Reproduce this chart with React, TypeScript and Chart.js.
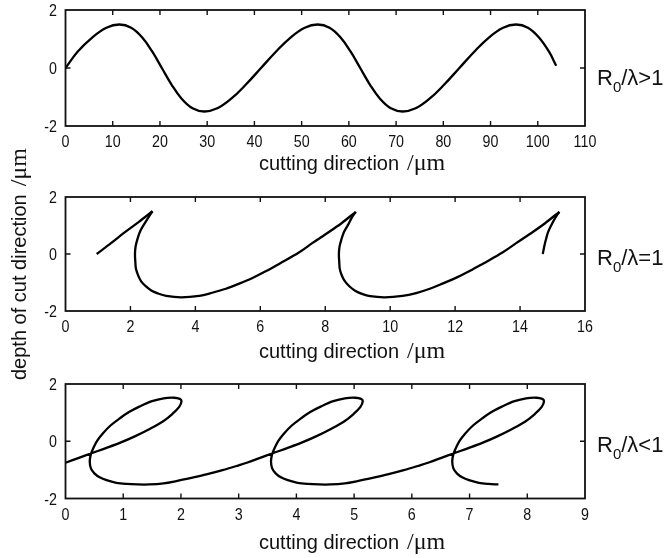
import { useEffect, useRef } from 'react';
import { Chart, registerables } from 'chart.js';

Chart.register(...registerables);

// ---- page geometry -------------------------------------------------------
const PAGE_W = 667;
const PAGE_H = 558;
const PLOT_LEFT = 65.5;
const PLOT_RIGHT = 585;
const X_AXIS_BAND = 30;
const TICK_LEN = 5;
const INK = '#111';
const SANS = '"Liberation Sans", Arial, Helvetica, sans-serif';
const SERIF = '"Liberation Serif", "Times New Roman", serif';

// ---- shared text ---------------------------------------------------------
const X_TITLE = 'cutting direction';
const Y_TITLE = 'depth of cut direction';
const UNIT = '/\u03bcm';
const Y_TICKS = [-2, 0, 2];

// ---- panel 1: R0/λ > 1 ---------------------------------------------------
const TOP_X_TICKS = [0, 10, 20, 30, 40, 50, 60, 70, 80, 90, 100, 110];
const TOP_X = [
  0, 2.6, 5.71, 8.66, 11.4, 13.91, 16.21, 18.35, 20.4, 22.45, 24.59, 26.89, 29.4,
  32.14, 35.09, 38.2, 41.4, 44.6, 47.71, 50.66, 53.4, 55.91, 58.21, 60.35, 62.4,
  64.45, 66.59, 68.89, 71.4, 74.14, 77.09, 80.2, 83.4, 86.6, 89.71, 92.66, 95.4,
  97.91, 100.21, 102.35, 103.9,
];
const TOP_Y = [
  0, 0.57, 1.06, 1.39, 1.5, 1.39, 1.06, 0.57, 0, -0.57, -1.06, -1.39, -1.5,
  -1.39, -1.06, -0.57, 0, 0.57, 1.06, 1.39, 1.5, 1.39, 1.06, 0.57, 0,
  -0.57, -1.06, -1.39, -1.5, -1.39, -1.06, -0.57, 0, 0.57, 1.06, 1.39, 1.5,
  1.39, 1.06, 0.57, 0.08,
];

// ---- panel 2: R0/λ = 1 ---------------------------------------------------
const MID_X_TICKS = [0, 2, 4, 6, 8, 10, 12, 14, 16];
const MID_X = [
  0.96, 1.4, 1.81, 2.25, 2.68, 2.55, 2.43, 2.3, 2.22, 2.16, 2.14, 2.15, 2.17,
  2.24, 2.33, 2.47, 2.63, 2.84, 3.1, 3.56, 4.12, 4.52, 4.94, 5.35, 5.76, 6.18,
  6.59, 7.2, 7.6, 8.02, 8.5, 8.94, 8.81, 8.71, 8.58, 8.5, 8.44, 8.42, 8.43,
  8.45, 8.52, 8.62, 8.75, 8.92, 9.13, 9.38, 9.83, 10.38, 10.8, 11.22, 11.63,
  12.04, 12.46, 12.87, 13.47, 13.88, 14.3, 14.77, 15.21, 15.08, 14.97, 14.86,
  14.79, 14.74, 14.7,
];
const MID_Y = [
  0, 0.38, 0.75, 1.12, 1.5, 1.28, 1.06, 0.8, 0.54, 0.27, 0, -0.26, -0.52,
  -0.76, -0.96, -1.13, -1.27, -1.38, -1.47, -1.52, -1.47, -1.36, -1.22, -1.04,
  -0.84, -0.6, -0.34, 0.06, 0.38, 0.7, 1.08, 1.48, 1.26, 1.04, 0.78, 0.52,
  0.26, 0, -0.26, -0.54, -0.78, -0.98, -1.14, -1.29, -1.4, -1.48, -1.52,
  -1.47, -1.37, -1.22, -1.03, -0.83, -0.59, -0.33, 0.06, 0.38, 0.7, 1.08,
  1.48, 1.26, 1.03, 0.76, 0.48, 0.24, 0,
];
// indices of the cusp points, where the smooth pieces meet
const MID_CUSPS = [4, 31, 58];

// ---- panel 3: R0/λ < 1 ---------------------------------------------------
const BOT_X_TICKS = [0, 1, 2, 3, 4, 5, 6, 7, 8, 9];
const BOT_X = [
  0, 0.22, 0.45, 0.7, 0.95, 1.2, 1.45, 1.68, 1.85, 1.97, 2.01, 1.98, 1.88, 1.7,
  1.5, 1.28, 1.1, 0.94, 0.78, 0.65, 0.55, 0.48, 0.44, 0.42, 0.44, 0.5, 0.6,
  0.71, 0.88, 1.05, 1.25, 1.45, 1.7, 1.92, 2.2, 2.44, 2.72, 3.0,
  3.14, 3.36, 3.59, 3.84, 4.09, 4.34, 4.59, 4.82, 4.99, 5.11, 5.15, 5.12, 5.02,
  4.84, 4.64, 4.42, 4.24, 4.08, 3.92, 3.79, 3.69, 3.62, 3.58, 3.56, 3.58, 3.64,
  3.74, 3.85, 4.02, 4.19, 4.39, 4.59, 4.84, 5.06, 5.34, 5.58, 5.86, 6.14,
  6.28, 6.5, 6.73, 6.98, 7.23, 7.48, 7.73, 7.96, 8.13, 8.25, 8.29, 8.26, 8.16,
  7.98, 7.78, 7.56, 7.38, 7.22, 7.06, 6.93, 6.83, 6.76, 6.72, 6.7, 6.72, 6.78,
  6.88, 6.99, 7.16, 7.33, 7.5,
];
const BOT_Y = [
  -0.75, -0.59, -0.42, -0.24, -0.05, 0.17, 0.42, 0.68, 0.95, 1.2, 1.4, 1.48,
  1.52, 1.5, 1.4, 1.21, 1.02, 0.8, 0.55, 0.28, 0.02, -0.25, -0.45, -0.7, -0.95,
  -1.12, -1.27, -1.36, -1.45, -1.49, -1.51, -1.51, -1.47, -1.39, -1.27, -1.16,
  -1.01, -0.84,
  -0.75, -0.59, -0.42, -0.24, -0.05, 0.17, 0.42, 0.68, 0.95, 1.2, 1.4, 1.48,
  1.52, 1.5, 1.4, 1.21, 1.02, 0.8, 0.55, 0.28, 0.02, -0.25, -0.45, -0.7, -0.95,
  -1.12, -1.27, -1.36, -1.45, -1.49, -1.51, -1.51, -1.47, -1.39, -1.27, -1.16,
  -1.01, -0.84,
  -0.75, -0.59, -0.42, -0.24, -0.05, 0.17, 0.42, 0.68, 0.95, 1.2, 1.4, 1.48,
  1.52, 1.5, 1.4, 1.21, 1.02, 0.8, 0.55, 0.28, 0.02, -0.25, -0.45, -0.7, -0.95,
  -1.12, -1.27, -1.36, -1.45, -1.49, -1.51,
];

type Pt = { x: number; y: number };

interface Panel {
  xMin: number;
  xMax: number;
  xTicks: number[];
  pieces: Pt[][];
  tension: number;
  plotTop: number;
  plotBottom: number;
  titleBase: number;
  relation: string;
  labelBase: number;
  withYTitle: boolean;
}

const toPoints = (xs: number[], ys: number[]): Pt[] => xs.map((x, i) => ({ x, y: ys[i] }));

function splitAt(points: Pt[], cuts: number[]): Pt[][] {
  const out: Pt[][] = [];
  let start = 0;
  for (const c of cuts) {
    out.push(points.slice(start, c + 1));
    start = c;
  }
  out.push(points.slice(start));
  return out;
}

const PANELS: Panel[] = [
  {
    xMin: 0, xMax: 110, xTicks: TOP_X_TICKS,
    pieces: [toPoints(TOP_X, TOP_Y)], tension: 0.4,
    plotTop: 10, plotBottom: 126, titleBase: 170,
    relation: '>1', labelBase: 85, withYTitle: false,
  },
  {
    xMin: 0, xMax: 16, xTicks: MID_X_TICKS,
    pieces: splitAt(toPoints(MID_X, MID_Y), MID_CUSPS), tension: 0.35,
    plotTop: 197, plotBottom: 311, titleBase: 358,
    relation: '=1', labelBase: 265, withYTitle: true,
  },
  {
    xMin: 0, xMax: 9, xTicks: BOT_X_TICKS,
    pieces: [toPoints(BOT_X, BOT_Y)], tension: 0.35,
    plotTop: 384, plotBottom: 498.5, titleBase: 549,
    relation: '<1', labelBase: 452, withYTitle: false,
  },
];

// "cutting direction /μm": sans words followed by a serif unit
function drawUnitTitle(ctx: CanvasRenderingContext2D, words: string, x: number, y: number) {
  ctx.textAlign = 'left';
  ctx.textBaseline = 'alphabetic';
  ctx.font = `20px ${SANS}`;
  ctx.fillText(words, x, y);
  const w = ctx.measureText(words).width;
  ctx.font = `24px ${SERIF}`;
  ctx.fillText(UNIT, x + w + 8, y);
}

// narrow, tall tick numerals
const TICK_FONT = `17px ${SANS}`;
const TICK_SQUEEZE = 0.84;

function drawTickText(
  ctx: CanvasRenderingContext2D,
  text: string,
  x: number,
  y: number,
  align: CanvasTextAlign,
) {
  ctx.save();
  ctx.translate(x, y);
  ctx.scale(TICK_SQUEEZE, 1);
  ctx.font = TICK_FONT;
  ctx.textAlign = align;
  ctx.textBaseline = 'alphabetic';
  ctx.fillText(text, 0, 0);
  ctx.restore();
}

function framePlugin(panel: Panel) {
  return {
    id: 'panelFrame',
    afterDraw(chart: any) {
      const { ctx, chartArea: a, scales } = chart;
      const xs = scales.x;
      const ys = scales.y;
      ctx.save();
      ctx.fillStyle = INK;
      ctx.strokeStyle = INK;

      // box
      ctx.lineWidth = 1.8;
      ctx.strokeRect(a.left, a.top, a.right - a.left, a.bottom - a.top);

      // inward ticks, mirrored on all four sides
      ctx.lineWidth = 1.4;
      ctx.beginPath();
      for (const t of xs.ticks) {
        const p = xs.getPixelForValue(t.value);
        if (p <= a.left + 1 || p >= a.right - 1) continue;
        ctx.moveTo(p, a.bottom);
        ctx.lineTo(p, a.bottom - TICK_LEN);
        ctx.moveTo(p, a.top);
        ctx.lineTo(p, a.top + TICK_LEN);
      }
      for (const t of ys.ticks) {
        const p = ys.getPixelForValue(t.value);
        if (p <= a.top + 1 || p >= a.bottom - 1) continue;
        ctx.moveTo(a.left, p);
        ctx.lineTo(a.left + TICK_LEN, p);
        ctx.moveTo(a.right, p);
        ctx.lineTo(a.right - TICK_LEN, p);
      }
      ctx.stroke();

      // tick numerals
      for (const t of xs.ticks) {
        drawTickText(ctx, String(t.value), xs.getPixelForValue(t.value), a.bottom + 21, 'center');
      }
      for (const t of ys.ticks) {
        drawTickText(ctx, String(t.value), a.left - 8.5, ys.getPixelForValue(t.value) + 6, 'right');
      }

      // x-axis title
      drawUnitTitle(ctx, X_TITLE, 259, panel.titleBase);

      // ratio label at the right: R0/λ..
      let lx = 597;
      ctx.textAlign = 'left';
      ctx.textBaseline = 'alphabetic';
      ctx.font = `22px ${SANS}`;
      ctx.fillText('R', lx, panel.labelBase);
      lx += ctx.measureText('R').width;
      ctx.font = `15px ${SANS}`;
      ctx.fillText('0', lx, panel.labelBase + 7);
      lx += ctx.measureText('0').width;
      ctx.font = `22px ${SANS}`;
      ctx.fillText('/\u03bb' + panel.relation, lx, panel.labelBase);

      // shared y-axis title
      if (panel.withYTitle) {
        ctx.save();
        ctx.translate(26, 380);
        ctx.rotate(-Math.PI / 2);
        drawUnitTitle(ctx, Y_TITLE, 0, 0);
        ctx.restore();
      }
      ctx.restore();
    },
  };
}

function makeChart(canvas: HTMLCanvasElement, panel: Panel) {
  return new Chart(canvas, {
    type: 'scatter',
    data: {
      datasets: panel.pieces.map((pts) => ({
        data: pts,
        showLine: true,
        borderColor: '#000',
        borderWidth: 2.3,
        pointRadius: 0,
        pointHoverRadius: 0,
        tension: panel.tension,
        fill: false,
      })),
    },
    options: {
      animation: false,
      responsive: false,
      maintainAspectRatio: false,
      devicePixelRatio: 1,
      events: [],
      layout: {
        padding: {
          left: 0,
          right: PAGE_W - PLOT_RIGHT,
          top: panel.plotTop,
          bottom: PAGE_H - panel.plotBottom - X_AXIS_BAND,
        },
      },
      plugins: { legend: { display: false }, tooltip: { enabled: false } },
      scales: {
        x: {
          type: 'linear',
          min: panel.xMin,
          max: panel.xMax,
          afterBuildTicks: (s: any) => {
            s.ticks = panel.xTicks.map((v) => ({ value: v }));
          },
          afterFit: (s: any) => {
            s.height = X_AXIS_BAND;
          },
          grid: { display: false, drawTicks: false },
          border: { display: false },
          ticks: { display: false },
        },
        y: {
          type: 'linear',
          min: -2,
          max: 2,
          afterBuildTicks: (s: any) => {
            s.ticks = Y_TICKS.map((v) => ({ value: v }));
          },
          afterFit: (s: any) => {
            s.width = PLOT_LEFT;
          },
          grid: { display: false, drawTicks: false },
          border: { display: false },
          ticks: { display: false },
        },
      },
    } as any,
    plugins: [framePlugin(panel)],
  });
}

export default function App() {
  const refs = [
    useRef<HTMLCanvasElement>(null),
    useRef<HTMLCanvasElement>(null),
    useRef<HTMLCanvasElement>(null),
  ];

  useEffect(() => {
    const charts = PANELS.map((p, i) => makeChart(refs[i].current as HTMLCanvasElement, p));
    return () => charts.forEach((c) => c.destroy());
  }, []);

  return (
    <div
      style={{
        position: 'absolute',
        left: 0,
        top: 0,
        width: PAGE_W,
        height: PAGE_H,
        background: '#fff',
      }}
    >
      {refs.map((r, i) => (
        <canvas
          key={i}
          ref={r}
          width={PAGE_W}
          height={PAGE_H}
          style={{ position: 'absolute', left: 0, top: 0, width: PAGE_W, height: PAGE_H }}
        />
      ))}
    </div>
  );
}
